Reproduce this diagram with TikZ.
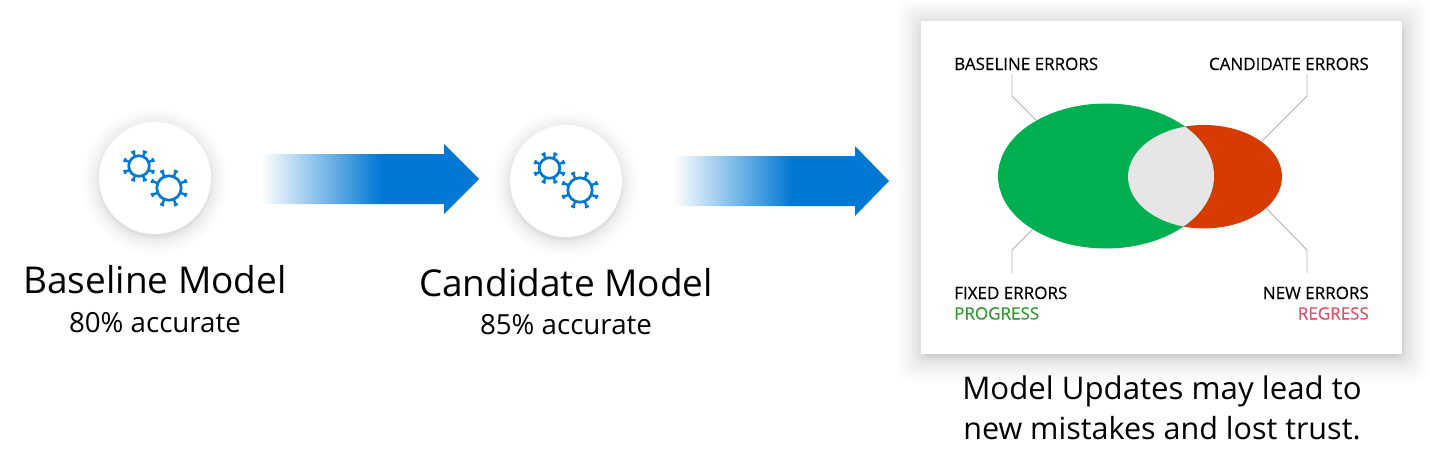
\documentclass[tikz,border=0pt]{standalone}
\usepackage{fontspec}
\usetikzlibrary{shapes.geometric}
\setmainfont{Open Sans}
\definecolor{azure}{HTML}{0078D4}
\definecolor{vgreen}{HTML}{00B050}
\definecolor{vred}{HTML}{D83B01}
\definecolor{vgray}{HTML}{E6E6E6}
\definecolor{leader}{HTML}{B4B4B4}
\definecolor{proggreen}{HTML}{339933}
\definecolor{regred}{HTML}{E0506A}
\pgfdeclarehorizontalshading{arrowfade}{100bp}{color(0bp)=(white); color(24.6bp)=(white); color(52.3bp)=(azure); color(100bp)=(azure)}
\tikzset{
  title/.style={anchor=base,font=\fontsize{37}{37}\selectfont,inner sep=0pt},
  sub/.style={anchor=base,font=\fontsize{27.7}{27.7}\selectfont,inner sep=0pt},
  tag/.style={font=\fontsize{17}{17}\selectfont\addfontfeatures{FakeBold=0.3},inner sep=0pt},
  caption/.style={anchor=base,inner sep=0pt},
  leaderline/.style={draw=leader,line width=0.9pt},
  disc/.style={circle,fill=white,minimum size=112pt,inner sep=0pt},
  gearring/.style={draw=azure,line width=2.7pt},
  gearline/.style={draw=azure,line width=2.4pt},
  blob/.style={ellipse,inner sep=0pt,outer sep=0pt},
  fadearrow/.style={shading=arrowfade},
  haze/.style={black,opacity=0.007},
}
\newcommand{\softshadow}[3]{% x y r
  \foreach \k in {0,...,15}{
    \pgfmathsetmacro{\ext}{17*((15-\k)/15)^2}
    \fill[haze] (#1,#2+3) circle ({#3+\ext});}
}
\newcommand{\geargl}[3]{% x y ring radius
  \draw[gearring] (#1,#2) circle (#3);
  \foreach \a in {22.5,67.5,...,337.5}{
    \draw[gearline] (#1,#2) ++(\a:#3) -- ++(\a:{0.48*#3});
    \draw[gearline] (#1,#2) ++(\a:{1.48*#3}) ++({\a+90}:2) -- ++({\a-90}:4);
  }
}
\begin{document}
\begin{tikzpicture}[x=1pt,y=-1pt]
\useasboundingbox (0,0) rectangle (1430,466);
% discs
\softshadow{155}{178}{56}
\softshadow{566}{181}{56}
\node[disc] (base) at (155,178) {};
\node[disc] (cand) at (566,181) {};
\geargl{139}{166}{10.3}
\geargl{169}{188}{12.2}
\geargl{549.5}{168}{10.3}
\geargl{580}{190}{12.2}
% arrows
\shade[fadearrow] (263,154) -- (444,154) -- (444,144) -- (479,179) -- (444,214) -- (444,204) -- (263,204) -- cycle;
\shade[fadearrow] (675,156) -- (855,156) -- (855,146) -- (889,181) -- (855,216) -- (855,206) -- (675,206) -- cycle;
% model texts
\node[title] (tb) at (155,293) {Baseline Model};
\node[sub] (sb) at (155,332) {80\% accurate};
\node[title] (tc) at (566,296) {Candidate Model};
\node[sub] (sc) at (566,334.5) {85\% accurate};
% panel
\foreach \k in {0,...,23}{
  \pgfmathsetmacro{\ext}{24*((23-\k)/23)^2}
  \fill[haze,rounded corners=10pt] ({921-\ext+1},{21-\ext+3}) rectangle ({1402+\ext+1},{354+\ext+3});
}
\fill[white] (921,21) rectangle (1402,354);
% venn
\node[blob,fill=vred,minimum width=156pt,minimum height=103.4pt] (red) at (1204,176.7) {};
\node[blob,fill=vgreen,minimum width=216pt,minimum height=145pt] (green) at (1106,176) {};
\begin{scope}
  \clip (1204,176.7) ellipse [x radius=76,y radius=51.7];
  \fill[vgray] (1106,176) ellipse [x radius=108,y radius=72.5];
\end{scope}
% labels
\node[tag,anchor=base west] (lb) at (954,70) {BASELINE ERRORS};
\node[tag,anchor=base east] (lc) at (1369,70) {CANDIDATE ERRORS};
\node[tag,anchor=base west] (lf) at (954,299) {FIXED ERRORS};
\node[tag,anchor=base west,text=proggreen] (lp) at (954,319.5) {PROGRESS};
\node[tag,anchor=base east] (ln) at (1369,299) {NEW ERRORS};
\node[tag,anchor=base east,text=regred] (lr) at (1369,319.5) {REGRESS};
% leaders
\coordinate (a1) at (1012,74);
\coordinate (a2) at (1307,74);
\coordinate (a3) at (1012,273);
\coordinate (a4) at (1307,273);
\coordinate (e1) at (1036,120);
\coordinate (e2) at (1262,141);
\coordinate (e3) at (1033,229);
\coordinate (e4) at (1266,208);
\draw[leaderline] (a1) -- (1012,96) -- (e1);
\draw[leaderline] (a2) -- (1307,96) -- (e2);
\draw[leaderline] (a3) -- (1012,250) -- (e3);
\draw[leaderline] (a4) -- (1307,250) -- (e4);
% caption
\node[caption,font=\fontsize{31.2}{31.2}\selectfont] (c1) at (1162,399) {Model Updates may lead to};
\node[caption,font=\fontsize{30.5}{30.5}\selectfont] (c2) at (1162,439) {new mistakes and lost trust.};
\end{tikzpicture}
\end{document}
